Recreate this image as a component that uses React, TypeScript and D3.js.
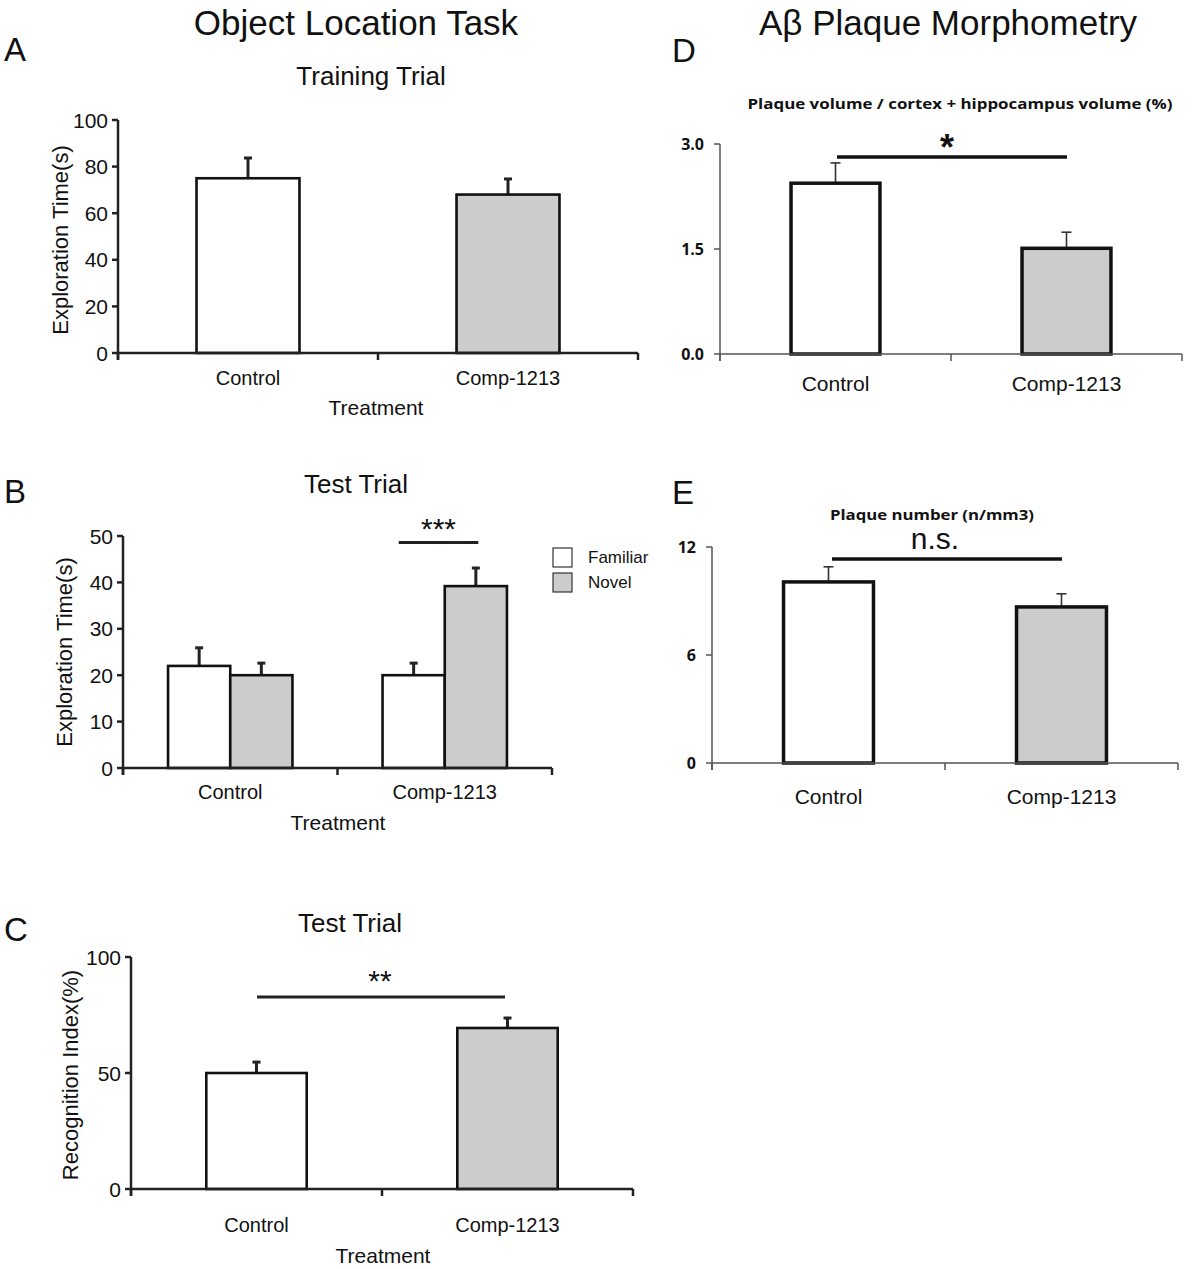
import React from "react";
import * as d3 from "d3";

// ---------- data ----------
const categories = ["Control", "Comp-1213"];
const trainingMeans = [75, 68];
const trainingErrors = [8.7, 6.7];
const testSeries = ["Familiar", "Novel"];
const testFamiliarMeans = [22, 20];
const testFamiliarErrors = [3.9, 2.6];
const testNovelMeans = [20, 39.2];
const testNovelErrors = [2.6, 3.9];
const recognitionMeans = [50, 69.4];
const recognitionErrors = [4.7, 4.3];
const plaqueVolumeMeans = [2.44, 1.51];
const plaqueVolumeErrors = [0.29, 0.23];
const plaqueNumberMeans = [10.06, 8.67];
const plaqueNumberErrors = [0.84, 0.73];
const trainingTicks = [0, 20, 40, 60, 80, 100];
const testTicks = [0, 10, 20, 30, 40, 50];
const recognitionTicks = [0, 50, 100];
const plaqueVolumeTicks = [0, 1.5, 3.0];
const plaqueNumberTicks = [0, 6, 12];
const seriesFills = ["#ffffff", "#cccccc"];

const ARIAL = "'Liberation Sans', Arial, sans-serif";
const CAL = "'Open Sans', Lato, sans-serif";

type Style = {
  axisColor: string; axisWidth: number; tickFont: string; tickSize: number; tickWeight: number;
  barStroke: number; errWidth: number; errColor: string; cap: number; tickLabelGap: number;
};
const classic: Style = { axisColor: "#222", axisWidth: 2.5, tickFont: ARIAL, tickSize: 21, tickWeight: 400, barStroke: 2.6, errWidth: 3, errColor: "#222", cap: 8, tickLabelGap: 10 };
const excel: Style = { axisColor: "#555", axisWidth: 1.5, tickFont: CAL, tickSize: 16, tickWeight: 700, barStroke: 3.5, errWidth: 1.6, errColor: "#333", cap: 10, tickLabelGap: 16 };

function Axes({ x, y, ticks, fmt, st, catY, catSize, catFont }: any) {
  const [x0, x1] = x.range();
  const y0 = y(0);
  const step = x.step();
  const bounds = [x0, x0 + step, x1];
  const yTop = y(ticks[ticks.length - 1]);
  return (
    <g>
      <line x1={x0} x2={x0} y1={yTop} y2={y0 + 7} stroke={st.axisColor} strokeWidth={st.axisWidth} />
      <line x1={x0} x2={x1} y1={y0} y2={y0} stroke={st.axisColor} strokeWidth={st.axisWidth} />
      {ticks.map((t: number) => (
        <g key={t}>
          <line x1={x0 - 6} x2={x0} y1={y(t)} y2={y(t)} stroke={st.axisColor} strokeWidth={st.axisWidth} />
          <text x={x0 - st.tickLabelGap} y={y(t)} textAnchor="end" dominantBaseline="central"
            fontFamily={st.tickFont} fontSize={st.tickSize} fontWeight={st.tickWeight} fill="#111">{fmt(t)}</text>
        </g>
      ))}
      {bounds.map((b, i) => (
        <line key={i} x1={b} x2={b} y1={y0} y2={y0 + 7} stroke={st.axisColor} strokeWidth={st.axisWidth} />
      ))}
      {categories.map((c) => (
        <text key={c} x={(x(c) as number) + x.bandwidth() / 2} y={catY} textAnchor="middle" dominantBaseline="central"
          fontFamily={catFont || ARIAL} fontSize={catSize || 20} fill="#111">{c}</text>
      ))}
    </g>
  );
}

function Bar({ bx, bw, v, e, y, fill, st }: any) {
  const top = y(v);
  const cx = bx + bw / 2;
  return (
    <g>
      <line x1={cx} x2={cx} y1={top} y2={y(v + e)} stroke={st.errColor} strokeWidth={st.errWidth} />
      <line x1={cx - st.cap / 2} x2={cx + st.cap / 2} y1={y(v + e)} y2={y(v + e)} stroke={st.errColor} strokeWidth={st.errWidth} />
      <rect x={bx} y={top} width={bw} height={y(0) - top} fill={fill} stroke="#111" strokeWidth={st.barStroke} />
    </g>
  );
}

function SimplePanel({ xr, yr, domainMax, means, errs, ticks, fmt, st, catY, catSize, catFont, pad }: any) {
  const x = d3.scaleBand<string>().domain(categories).range(xr).paddingInner(pad).paddingOuter(pad / 2);
  const y = d3.scaleLinear().domain([0, domainMax]).range(yr);
  return (
    <g>
      {categories.map((c, i) => (
        <Bar key={c} bx={x(c)} bw={x.bandwidth()} v={means[i]} e={errs[i]} y={y} fill={seriesFills[i]} st={st} />
      ))}
      <Axes x={x} y={y} ticks={ticks} fmt={fmt} st={st} catY={catY} catSize={catSize} catFont={catFont} />
    </g>
  );
}

function Text({ x, y, size, children, anchor = "middle", weight = 400, font = ARIAL, rotate, baseline = "central", ...rest }: any) {
  return (
    <text x={x} y={y} fontSize={size} textAnchor={anchor} fontWeight={weight} fontFamily={font}
      dominantBaseline={baseline} fill="#111" transform={rotate ? `rotate(${rotate},${x},${y})` : undefined} {...rest}>
      {children}
    </text>
  );
}

function PanelB() {
  const xo = d3.scaleBand<string>().domain(categories).range([123, 552]).paddingInner(0.42).paddingOuter(0.21);
  const xi = d3.scaleBand<string>().domain(testSeries).range([0, xo.bandwidth()]);
  const y = d3.scaleLinear().domain([0, 50]).range([768, 536]);
  const series = [
    { m: testFamiliarMeans, e: testFamiliarErrors },
    { m: testNovelMeans, e: testNovelErrors },
  ];
  const g = xo("Comp-1213") as number;
  const bw = xo.bandwidth();
  return (
    <g>
      {categories.map((c, ci) =>
        testSeries.map((s, si) => (
          <Bar key={c + s} bx={(xo(c) as number) + (xi(s) as number)} bw={xi.bandwidth()} v={series[si].m[ci]}
            e={series[si].e[ci]} y={y} fill={seriesFills[si]} st={classic} />
        ))
      )}
      <Axes x={xo} y={y} ticks={testTicks} fmt={(d: number) => String(d)} st={classic} catY={792} />
      <line x1={g + bw * 0.13} x2={g + bw * 0.77} y1={y(48.6)} y2={y(48.6)} stroke="#222" strokeWidth={3} />
      <Text x={g + bw * 0.45} y={539} size={30} baseline="alphabetic">***</Text>
      {testSeries.map((s, i) => (
        <g key={s}>
          <rect x={553} y={548 + i * 25} width={19} height={19} fill={seriesFills[i]} stroke="#333" strokeWidth={1.2} />
          <Text x={588} y={557 + i * 25} size={17} anchor="start">{s}</Text>
        </g>
      ))}
    </g>
  );
}

export default function App() {
  const f0 = (d: number) => String(d);
  const f1 = (d: number) => d.toFixed(1);
  return (
    <svg width={1194} height={1269} style={{ position: "absolute", left: 0, top: 0, background: "#fff" }}>
      <rect width={1194} height={1269} fill="#fff" />
      {/* headers */}
      <Text x={356} y={22} size={35}>Object Location Task</Text>
      <Text x={948} y={22} size={35}>Aβ Plaque Morphometry</Text>
      <Text x={4} y={49} size={33} anchor="start">A</Text>
      <Text x={4} y={491} size={33} anchor="start">B</Text>
      <Text x={4} y={929} size={33} anchor="start">C</Text>
      <Text x={672} y={50} size={33} anchor="start">D</Text>
      <Text x={672} y={492} size={33} anchor="start">E</Text>

      {/* A */}
      <Text x={371} y={76} size={26}>Training Trial</Text>
      <SimplePanel xr={[118, 638]} yr={[353, 120]} domainMax={100} means={trainingMeans} errs={trainingErrors}
        ticks={trainingTicks} fmt={f0} st={classic} catY={378} pad={0.604} />
      <Text x={60} y={240} size={22} rotate={-90}>Exploration Time(s)</Text>
      <Text x={376} y={407} size={21}>Treatment</Text>

      {/* B */}
      <Text x={356} y={484} size={26}>Test Trial</Text>
      <PanelB />
      <Text x={64} y={652} size={22} rotate={-90}>Exploration Time(s)</Text>
      <Text x={338} y={822} size={21}>Treatment</Text>

      {/* C */}
      <Text x={350} y={923} size={26}>Test Trial</Text>
      <SimplePanel xr={[131, 633]} yr={[1189, 957]} domainMax={100} means={recognitionMeans} errs={recognitionErrors}
        ticks={recognitionTicks} fmt={f0} st={classic} catY={1225} pad={0.6} />
      <line x1={257} x2={505} y1={997} y2={997} stroke="#222" strokeWidth={3} />
      <Text x={380} y={991} size={30} baseline="alphabetic">**</Text>
      <Text x={70} y={1075} size={22} rotate={-90}>Recognition Index(%)</Text>
      <Text x={383} y={1255} size={21}>Treatment</Text>

      {/* D */}
      <Text x={960} y={103} size={15} weight={700} font={CAL} textLength={425} lengthAdjust="spacingAndGlyphs">Plaque volume / cortex + hippocampus volume (%)</Text>
      <SimplePanel xr={[720, 1182]} yr={[354, 144]} domainMax={3} means={plaqueVolumeMeans} errs={plaqueVolumeErrors}
        ticks={plaqueVolumeTicks} fmt={f1} st={excel} catY={383} catSize={21} pad={0.615} />
      <line x1={837} x2={1067} y1={157} y2={157} stroke="#111" strokeWidth={3.5} />
      <Text x={947} y={160} size={36} weight={700} baseline="alphabetic">*</Text>

      {/* E */}
      <Text x={932} y={514} size={14} weight={700} font={CAL} textLength={204} lengthAdjust="spacingAndGlyphs">Plaque number (n/mm3)</Text>
      <SimplePanel xr={[712, 1178]} yr={[763, 547]} domainMax={12} means={plaqueNumberMeans} errs={plaqueNumberErrors}
        ticks={plaqueNumberTicks} fmt={f0} st={excel} catY={796} catSize={21} pad={0.614} />
      <line x1={832} x2={1062} y1={559} y2={559} stroke="#111" strokeWidth={3.5} />
      <Text x={935} y={549} size={30} baseline="alphabetic">n.s.</Text>
    </svg>
  );
}
